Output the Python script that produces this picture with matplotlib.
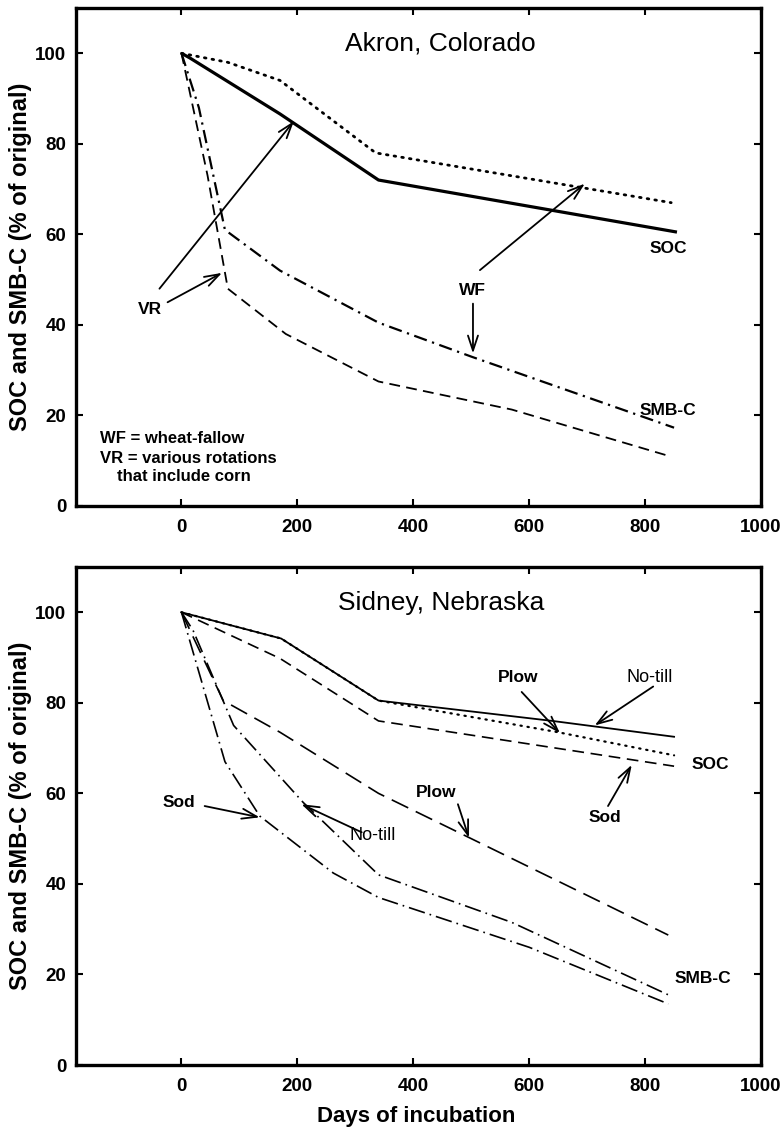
import matplotlib
matplotlib.use("Agg")
import matplotlib.pyplot as plt

plt.rcParams['font.family'] = ['Liberation Sans', 'DejaVu Sans']

# Akron, Colorado  (VR = various rotations, WF = wheat-fallow)
akron_vr_soc_x = [0, 14, 170, 340, 855]
akron_vr_soc_y = [100, 99, 86.6, 72, 60.5]
akron_wf_soc_x = [0, 80, 170, 335, 845]
akron_wf_soc_y = [100, 98, 94, 78, 67]
akron_wf_smb_x = [0, 30, 75, 170, 340, 500, 850]
akron_wf_smb_y = [100, 88, 61, 52, 40.5, 33, 17.3]
akron_vr_smb_x = [0, 45, 80, 180, 340, 570, 845]
akron_vr_smb_y = [100, 73, 48, 38, 27.5, 21.3, 10.9]

# Sidney, Nebraska
sid_nt_soc_x = [0, 172, 340, 640, 850]
sid_nt_soc_y = [100, 94.2, 80.5, 76, 72.5]
sid_plow_soc_x = [0, 172, 340, 650, 850]
sid_plow_soc_y = [100, 94.2, 80.5, 73.5, 68.4]
sid_sod_soc_x = [0, 170, 340, 850]
sid_sod_soc_y = [100, 89.8, 76, 66]
sid_plow_smb_x = [0, 72, 170, 340, 500, 840]
sid_plow_smb_y = [100, 80.5, 73.5, 60, 50, 28.7]
sid_nt_smb_x = [0, 20, 90, 210, 340, 570, 840]
sid_nt_smb_y = [100, 96, 75, 58, 42, 31.5, 15.5]
sid_sod_smb_x = [0, 75, 135, 262, 340, 600, 840]
sid_sod_smb_y = [100, 67, 55, 42.4, 37, 26, 13.5]

x_ticks = [0, 200, 400, 600, 800, 1000]
y_ticks = [0, 20, 40, 60, 80, 100]

W, H = 783, 1131
fig = plt.figure(figsize=(W / 100, H / 100), dpi=100)
ax1 = fig.add_axes([76 / W, 1 - 506 / H, 685 / W, 498 / H])
ax2 = fig.add_axes([76 / W, 1 - 1065 / H, 685 / W, 498 / H])


def style(ax):
    ax.set_xlim(-182, 1000)
    ax.set_ylim(0, 110)
    ax.set_xticks(x_ticks)
    ax.set_yticks(y_ticks)
    ax.tick_params(direction='in', top=True, right=True, length=5, width=1.5,
                   labelsize=13.5)
    ax.tick_params(axis='x', pad=9.5)
    ax.tick_params(axis='y', pad=7)
    for lab in ax.get_xticklabels() + ax.get_yticklabels():
        lab.set_fontweight('bold')
    for sp in ax.spines.values():
        sp.set_linewidth(2.4)
    ax.set_ylabel('SOC and SMB-C (% of original)', fontsize=17, fontweight='bold')
    ax.yaxis.set_label_coords(-0.0803, 0.5)
    ax.yaxis.label.set_verticalalignment('center')


def arrow(ax, tail, tip, lw=1.3):
    ax.annotate('', xy=tip, xytext=tail,
                arrowprops=dict(arrowstyle='->, head_length=0.9, head_width=0.3',
                                lw=lw, color='black', shrinkA=0, shrinkB=0,
                                mutation_scale=12))


# ---- top panel
ax1.plot(akron_vr_soc_x, akron_vr_soc_y, color='black', lw=2.3, solid_capstyle='butt')
ax1.plot(akron_wf_soc_x, akron_wf_soc_y, color='black', lw=2.0,
         linestyle=(0, (0.6, 2.2)), dash_capstyle='round')
ax1.plot(akron_wf_smb_x, akron_wf_smb_y, color='black', lw=1.6,
         linestyle=(0, (6, 2.5, 1, 2.5)))
ax1.plot(akron_vr_smb_x, akron_vr_smb_y, color='black', lw=1.3,
         linestyle=(0, (6, 3.5)))
style(ax1)

ax1.text(446, 102.2, 'Akron, Colorado', fontsize=19, ha='center', va='center')
ax1.text(-54.7, 43.3, 'VR', fontsize=12.5, fontweight='bold', ha='center', va='center')
arrow(ax1, (-38, 48), (194, 85))
arrow(ax1, (-24, 45), (70, 51.5))
ax1.text(503, 47.7, 'WF', fontsize=12.5, fontweight='bold', ha='center', va='center')
arrow(ax1, (515, 52.1), (696, 71.2))
arrow(ax1, (503, 44.7), (503, 33.7))
ax1.text(840, 56.9, 'SOC', fontsize=12.5, fontweight='bold', ha='center', va='center')
ax1.text(840, 21.2, 'SMB-C', fontsize=12.5, fontweight='bold', ha='center', va='center')
ax1.text(-141, 14.9, 'WF = wheat-fallow', fontsize=12, fontweight='bold', ha='left', va='center')
ax1.text(-141, 10.5, 'VR = various rotations', fontsize=12, fontweight='bold', ha='left', va='center')
ax1.text(-112, 6.5, 'that include corn', fontsize=12, fontweight='bold', ha='left', va='center')

# ---- bottom panel
ax2.plot(sid_plow_soc_x, sid_plow_soc_y, color='black', lw=1.6,
         linestyle=(0, (0.6, 2.6)), dash_capstyle='round')
ax2.plot(sid_nt_soc_x, sid_nt_soc_y, color='black', lw=1.3)
ax2.plot(sid_sod_soc_x, sid_sod_soc_y, color='black', lw=1.2,
         linestyle=(0, (7, 4)))
ax2.plot(sid_plow_smb_x, sid_plow_smb_y, color='black', lw=1.2,
         linestyle=(0, (11, 5)))
ax2.plot(sid_nt_smb_x, sid_nt_smb_y, color='black', lw=1.2,
         linestyle=(0, (10, 3, 1, 3)))
ax2.plot(sid_sod_smb_x, sid_sod_smb_y, color='black', lw=1.2,
         linestyle=(0, (10, 3, 1, 3)))
style(ax2)
ax2.set_xlabel('Days of incubation', fontsize=16, fontweight='bold')
ax2.xaxis.set_label_coords(0.497, -0.1038)
ax2.xaxis.label.set_verticalalignment('center')

ax2.text(449, 102, 'Sidney, Nebraska', fontsize=19, ha='center', va='center')
ax2.text(-4, 58, 'Sod', fontsize=12.5, fontweight='bold', ha='center', va='center')
arrow(ax2, (40, 57.2), (135, 54.7))
ax2.text(330, 50.6, 'No-till', fontsize=13, ha='center', va='center')
arrow(ax2, (311, 51.4), (207, 57.6))
ax2.text(581, 85.7, 'Plow', fontsize=12.5, fontweight='bold', ha='center', va='center')
arrow(ax2, (587, 82.4), (653, 73.3))
ax2.text(808, 85.7, 'No-till', fontsize=13, ha='center', va='center')
arrow(ax2, (814, 83.6), (713, 75))
ax2.text(912, 66.3, 'SOC', fontsize=12.5, fontweight='bold', ha='center', va='center')
ax2.text(440, 60.1, 'Plow', fontsize=12.5, fontweight='bold', ha='center', va='center')
arrow(ax2, (477, 57.6), (496, 50.2))
ax2.text(731, 54.7, 'Sod', fontsize=12.5, fontweight='bold', ha='center', va='center')
arrow(ax2, (736, 57.2), (777, 66.3))
ax2.text(900, 19.2, 'SMB-C', fontsize=12.5, fontweight='bold', ha='center', va='center')

fig.savefig('out.png', dpi=100)
